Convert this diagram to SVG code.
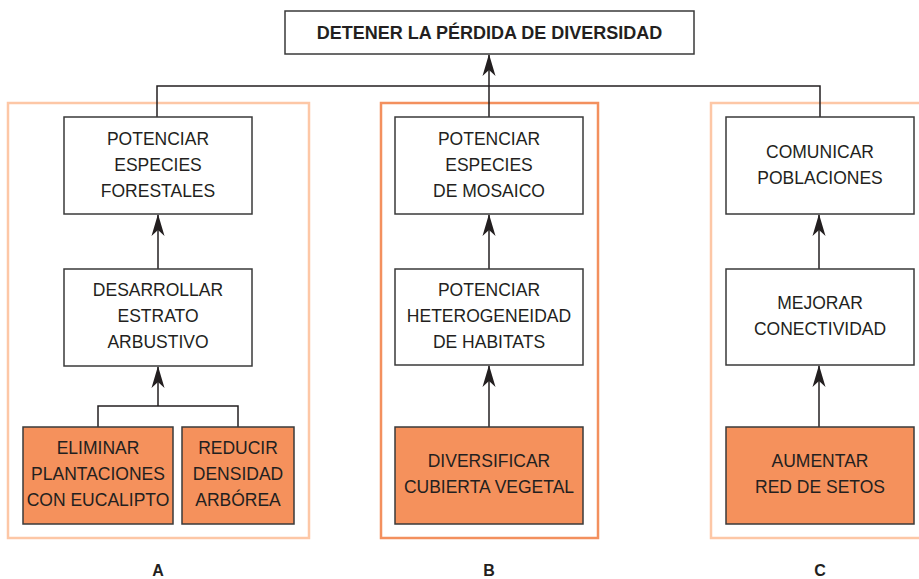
<svg xmlns="http://www.w3.org/2000/svg" width="919" height="579" viewBox="0 0 919 579">
<style>
.node{fill:#fff;stroke:#3a3a3a;stroke-width:1.5}
.act{fill:#f5915c;stroke:#3a3a3a;stroke-width:1.5}
.panel{fill:none;stroke:#fdc7a6;stroke-width:2.5}
.panelB{fill:none;stroke:#f3905e;stroke-width:2.5}
.t{font-family:"Liberation Sans",Arial,sans-serif;font-size:17.5px;fill:#231f20;text-anchor:middle}
.tb{font-family:"Liberation Sans",Arial,sans-serif;font-size:18px;font-weight:bold;fill:#231f20;text-anchor:middle}
.lab{font-family:"Liberation Sans",Arial,sans-serif;font-size:16px;font-weight:bold;fill:#231f20;text-anchor:middle}
.c{fill:none;stroke:#231f20;stroke-width:1.5}
</style>
<defs>
<marker id="arr" viewBox="0 0 22 14" refX="21" refY="7" markerWidth="22" markerHeight="14" markerUnits="userSpaceOnUse" orient="auto">
<path d="M0,0.5 L22,7 L0,13.5 L6,7 Z" fill="#231f20"/>
</marker>
</defs>
<g id="panels">
<rect class="panel" x="8" y="103" width="301" height="435"/>
<rect class="panelB" x="381" y="103" width="217" height="435"/>
<rect class="panel" x="711" y="103" width="220" height="435"/>
</g>
<g id="connectors">
<path class="c" d="M157,117 V86 H820 V117"/>
<path class="c" d="M489,117 V55" marker-end="url(#arr)"/>
<path class="c" d="M158,269 V215" marker-end="url(#arr)"/>
<path class="c" d="M98,427 V406 H238 V427 M158,406 V367" marker-end="url(#arr)"/>
<path class="c" d="M489,269 V215" marker-end="url(#arr)"/>
<path class="c" d="M489,427 V366" marker-end="url(#arr)"/>
<path class="c" d="M819,269 V215" marker-end="url(#arr)"/>
<path class="c" d="M819,427 V366" marker-end="url(#arr)"/>
</g>
<g id="goal">
<rect class="node" x="285" y="11" width="409" height="43"/>
<text class="tb" x="489.5" y="38.5">DETENER LA PÉRDIDA DE DIVERSIDAD</text>
</g>
<g id="a1">
<rect class="node" x="64" y="117" width="188" height="97"/>
<text class="t" x="158" y="145">POTENCIAR</text>
<text class="t" x="158" y="171">ESPECIES</text>
<text class="t" x="158" y="197">FORESTALES</text>
</g>
<g id="a2">
<rect class="node" x="64" y="269" width="188" height="97"/>
<text class="t" x="158" y="296">DESARROLLAR</text>
<text class="t" x="158" y="322">ESTRATO</text>
<text class="t" x="158" y="348">ARBUSTIVO</text>
</g>
<g id="a3">
<rect class="act" x="23" y="427" width="150" height="97"/>
<text class="t" x="98" y="454">ELIMINAR</text>
<text class="t" x="98" y="480">PLANTACIONES</text>
<text class="t" x="98" y="506">CON EUCALIPTO</text>
</g>
<g id="a4">
<rect class="act" x="182" y="427" width="112" height="97"/>
<text class="t" x="238" y="454">REDUCIR</text>
<text class="t" x="238" y="480">DENSIDAD</text>
<text class="t" x="238" y="506">ARBÓREA</text>
</g>
<g id="b1">
<rect class="node" x="395" y="117" width="188" height="97"/>
<text class="t" x="489" y="145">POTENCIAR</text>
<text class="t" x="489" y="171">ESPECIES</text>
<text class="t" x="489" y="197">DE MOSAICO</text>
</g>
<g id="b2">
<rect class="node" x="395" y="269" width="188" height="96"/>
<text class="t" x="489" y="296">POTENCIAR</text>
<text class="t" x="489" y="322">HETEROGENEIDAD</text>
<text class="t" x="489" y="348">DE HABITATS</text>
</g>
<g id="b3">
<rect class="act" x="395" y="427" width="188" height="97"/>
<text class="t" x="489" y="467">DIVERSIFICAR</text>
<text class="t" x="489" y="493">CUBIERTA VEGETAL</text>
</g>
<g id="c1">
<rect class="node" x="726" y="117" width="188" height="97"/>
<text class="t" x="820" y="158">COMUNICAR</text>
<text class="t" x="820" y="184">POBLACIONES</text>
</g>
<g id="c2">
<rect class="node" x="726" y="269" width="188" height="96"/>
<text class="t" x="820" y="309">MEJORAR</text>
<text class="t" x="820" y="335">CONECTIVIDAD</text>
</g>
<g id="c3">
<rect class="act" x="726" y="427" width="188" height="97"/>
<text class="t" x="820" y="467">AUMENTAR</text>
<text class="t" x="820" y="493">RED DE SETOS</text>
</g>
<g id="labels">
<text class="lab" x="158" y="576">A</text>
<text class="lab" x="489" y="576">B</text>
<text class="lab" x="820" y="576">C</text>
</g>
</svg>
